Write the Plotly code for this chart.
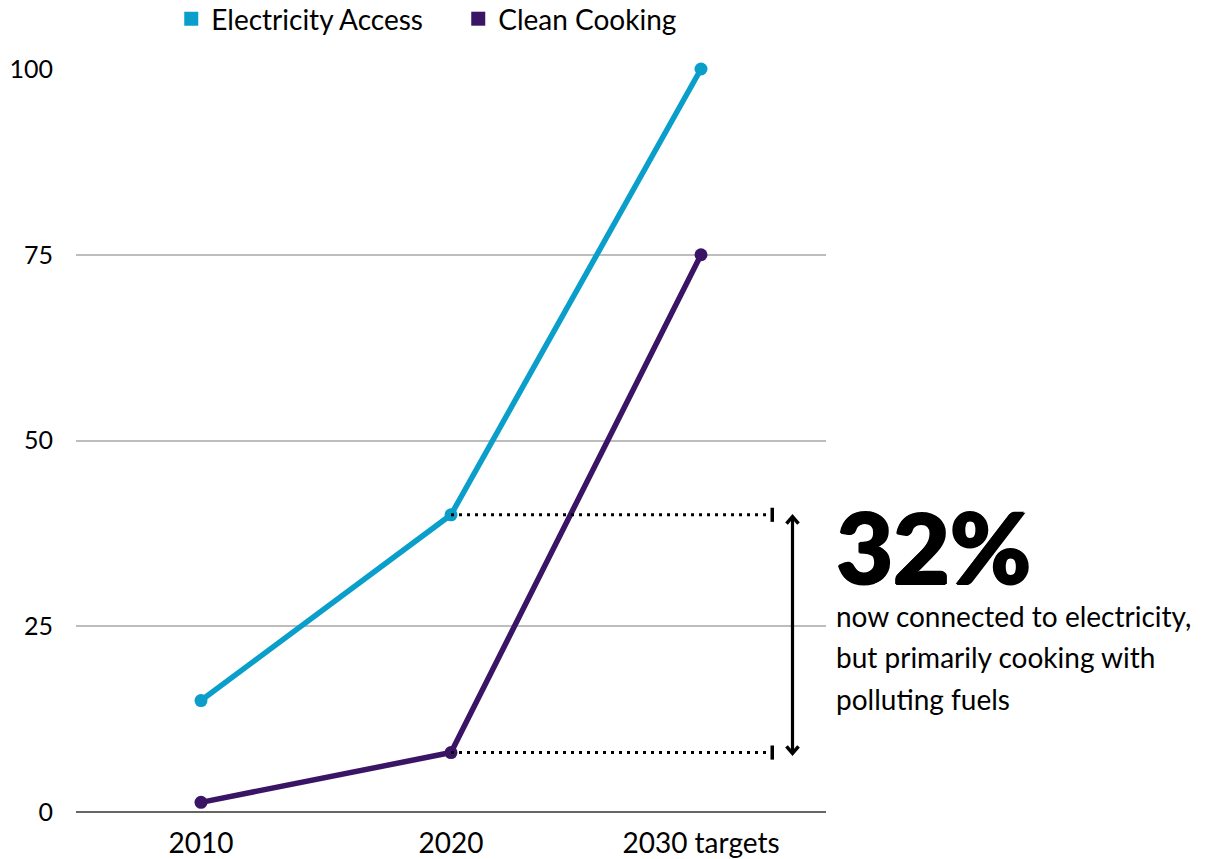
import plotly.graph_objects as go

# Access rates (%) by milestone
categories = ["2010", "2020", "2030 targets"]
electricity_access = [15, 40, 100]
clean_cooking = [1.3, 8, 75]
y_ticks = [0, 25, 50, 75, 100]

gap_label = "32%"
gap_lines = [
    "now connected to electricity,",
    "but primarily cooking with",
    "polluting fuels",
]

ELEC = "#0a9fcb"
COOK = "#3a1566"
FONT = "Lato"

fig = go.Figure()
for name, vals, col in (("Electricity Access", electricity_access, ELEC),
                        ("Clean Cooking", clean_cooking, COOK)):
    fig.add_trace(go.Scatter(
        x=categories, y=vals, name=name, mode="lines+markers",
        line=dict(color=col, width=5.5), marker=dict(color=col, size=13),
        cliponaxis=False, showlegend=False,
    ))
    # square swatch for the legend
    fig.add_trace(go.Scatter(
        x=[None], y=[None], name=name, mode="markers",
        marker=dict(color=col, size=14, symbol="square"), showlegend=True,
    ))

# Dotted guides from the 2020 values out to the bracket
x_start = 1
x_end = 2.285
x_arrow = 2.366
for yv in (electricity_access[1], clean_cooking[1]):
    fig.add_shape(type="line", x0=x_start, x1=x_end, y0=yv, y1=yv,
                  xref="x", yref="y",
                  line=dict(color="black", width=3, dash="3px,5px"))
    fig.add_shape(type="line", x0=x_end, x1=x_end, y0=yv - 0.95, y1=yv + 0.95,
                  xref="x", yref="y", line=dict(color="black", width=3.5))

# Double-headed arrow spanning the gap
top, bottom = electricity_access[1], clean_cooking[1]
fig.add_shape(type="line", x0=x_arrow, x1=x_arrow, y0=bottom - 0.1, y1=top - 0.25,
              xref="x", yref="y", line=dict(color="black", width=3.2))
for anchor, sgn in ((top - 0.25, -1), (bottom - 0.1, 1)):
    fig.add_shape(type="path", xref="x", yref="y",
                  xsizemode="pixel", ysizemode="pixel",
                  xanchor=x_arrow, yanchor=anchor,
                  path=f"M -6,{sgn * 7} L 0,0 L 6,{sgn * 7}",
                  line=dict(color="black", width=3.5))

fig.add_annotation(x=1.0, xshift=8, y=35.8, xref="paper", yref="y",
                   text=f"<b>{gap_label}</b>", showarrow=False,
                   xanchor="left", yanchor="middle",
                   font=dict(family="Lato Black, Lato", size=98, color="black",
                             weight=900,
                             shadow="1.5px 0 0 black, -1px 0 0 black, 0 1px 0 black, 0 -1px 0 black"))
line_y = [26.4, 20.9, 15.2]
for txt, yv in zip(gap_lines, line_y):
    fig.add_annotation(x=1.0, xshift=8, y=yv, xref="paper", yref="y",
                       text=txt, showarrow=False, align="left",
                       xanchor="left", yanchor="middle",
                       font=dict(family=FONT, size=28, color="black"))

fig.update_layout(
    width=1216, height=859,
    margin=dict(l=76, r=390, t=69, b=47, autoexpand=False),
    paper_bgcolor="white", plot_bgcolor="white",
    font=dict(family=FONT, size=26, color="black"),
    showlegend=True,
    legend=dict(orientation="h", x=0.127, y=1 - 19 / 859, yref="container",
                yanchor="middle", xanchor="left",
                font=dict(size=28), itemwidth=30, traceorder="normal",
                entrywidth=242, entrywidthmode="pixels",
                bgcolor="rgba(0,0,0,0)"),
    xaxis=dict(type="category", range=[-0.5, 2.5], showgrid=False,
               showline=False, zeroline=False, ticks="", ticklabelstandoff=12,
               tickfont=dict(size=28), automargin=False),
    yaxis=dict(range=[0, 100], tickvals=y_ticks, showgrid=True,
               gridcolor="#bdbdbd", gridwidth=1.5, zeroline=True,
               zerolinecolor="#666666", zerolinewidth=2,
               showline=False, ticks="", ticklabelstandoff=22,
               tickfont=dict(size=25), automargin=False),
)

fig.write_html("out.html")
